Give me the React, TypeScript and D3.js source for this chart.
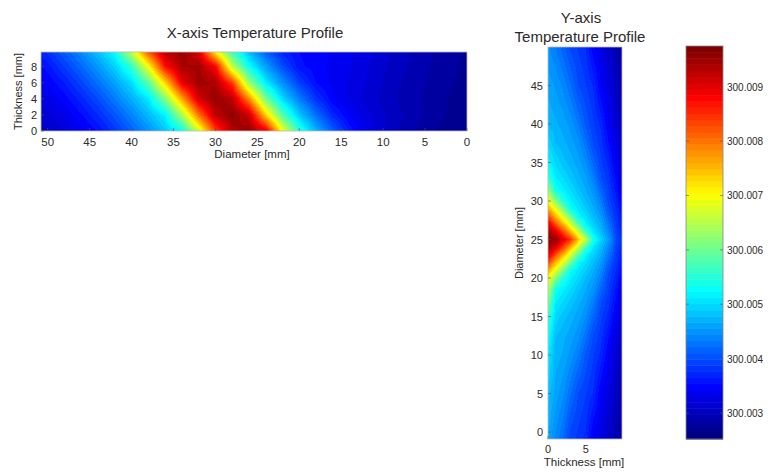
import React, { useMemo } from "react";
import * as d3 from "d3";

// ---------- DATA (temperatures as 1e-3 K above 300 K) ----------
// X-axis profile: rows = thickness [mm], columns = diameter [mm]
const X_DIAMETER = [0, 2, 4, 6, 8, 10, 12, 14, 16, 18, 20, 22, 24, 26, 28, 30, 32, 34, 36, 38, 40, 42, 44, 46, 48, 50, 52];
const X_THICKNESS = [0, 2, 4, 6, 8, 10];
const X_T0 = [2.63, 2.68, 2.75, 2.85, 2.95, 3.10, 3.32, 3.61, 4.11, 4.72, 5.55, 6.97, 9.03, 9.52, 9.34, 8.37, 6.69, 5.30, 4.85, 4.46, 4.13, 3.82, 3.55, 3.37, 3.21, 3.06, 2.99];
const X_T2 = [2.66, 2.72, 2.81, 2.90, 2.99, 3.11, 3.24, 3.42, 3.71, 4.23, 4.86, 5.80, 7.34, 9.20, 9.59, 9.27, 8.01, 6.41, 5.17, 4.77, 4.39, 4.05, 3.76, 3.52, 3.32, 3.18, 3.03];
const X_T4 = [2.69, 2.74, 2.81, 2.88, 2.95, 3.05, 3.16, 3.28, 3.45, 3.80, 4.34, 4.99, 6.06, 7.85, 9.30, 9.55, 9.11, 7.65, 6.14, 5.09, 4.69, 4.33, 3.99, 3.71, 3.48, 3.29, 3.15];
const X_T6 = [2.71, 2.76, 2.82, 2.90, 2.98, 3.08, 3.19, 3.30, 3.39, 3.53, 3.89, 4.46, 5.13, 6.31, 8.40, 9.37, 9.48, 8.94, 7.31, 5.86, 5.01, 4.60, 4.26, 3.94, 3.65, 3.44, 3.26];
const X_T8 = [2.72, 2.77, 2.85, 2.92, 3.01, 3.11, 3.22, 3.32, 3.40, 3.47, 3.57, 3.99, 4.58, 5.30, 6.59, 8.85, 9.45, 9.41, 8.72, 6.97, 5.58, 4.93, 4.53, 4.19, 3.88, 3.60, 3.40];
const X_T10 = [2.74, 2.79, 2.86, 2.94, 3.03, 3.13, 3.24, 3.33, 3.41, 3.47, 3.53, 3.68, 4.11, 4.72, 5.55, 6.97, 9.03, 9.52, 9.34, 8.37, 6.69, 5.30, 4.85, 4.46, 4.13, 3.82, 3.55];

// Y-axis profile: rows = diameter [mm], columns = thickness [mm]
const Y_THICKNESS = [0, 1, 2, 3, 4, 5, 6, 7, 8, 9, 10];
const Y_DIAMETER = [-1, 0, 5, 10, 12.5, 15, 17, 18.5, 20, 21, 22, 23, 24, 25, 26, 27, 28, 29, 30, 31.5, 33, 35, 37.5, 40, 45, 50];
const Y_ROWS = [
  [4.65, 4.40, 4.20, 3.94, 3.84, 3.71, 3.39, 3.27, 3.08, 2.93, 2.78],
  [4.69, 4.45, 4.25, 3.95, 3.86, 3.76, 3.45, 3.30, 3.10, 2.95, 2.79],
  [4.83, 4.62, 4.47, 4.23, 3.99, 3.88, 3.75, 3.42, 3.26, 3.04, 2.87],
  [5.12, 4.73, 4.65, 4.51, 4.33, 4.07, 3.89, 3.73, 3.42, 3.17, 2.97],
  [5.34, 4.79, 4.70, 4.61, 4.49, 4.26, 3.97, 3.82, 3.56, 3.29, 3.02],
  [5.63, 4.98, 4.83, 4.72, 4.61, 4.45, 4.18, 3.91, 3.72, 3.40, 3.06],
  [6.14, 5.13, 5.01, 4.86, 4.71, 4.58, 4.36, 4.01, 3.81, 3.52, 3.12],
  [6.57, 5.34, 5.14, 5.00, 4.82, 4.67, 4.49, 4.17, 3.88, 3.60, 3.24],
  [7.00, 6.19, 5.47, 5.14, 4.99, 4.77, 4.61, 4.33, 3.94, 3.70, 3.36],
  [7.65, 6.87, 6.11, 5.28, 5.09, 4.90, 4.69, 4.44, 4.02, 3.76, 3.44],
  [8.38, 7.54, 6.81, 6.00, 5.20, 5.03, 4.78, 4.55, 4.15, 3.82, 3.50],
  [9.03, 8.27, 7.54, 6.74, 5.87, 5.16, 4.93, 4.67, 4.28, 3.88, 3.56],
  [9.46, 9.03, 8.35, 7.55, 6.66, 5.69, 5.09, 4.79, 4.40, 3.94, 3.62],
  [9.61, 9.53, 9.03, 8.45, 7.51, 6.57, 5.41, 4.95, 4.57, 4.00, 3.68],
  [9.46, 9.03, 8.35, 7.55, 6.66, 5.69, 5.09, 4.79, 4.40, 3.94, 3.62],
  [9.03, 8.27, 7.54, 6.74, 5.87, 5.16, 4.93, 4.67, 4.28, 3.88, 3.56],
  [8.38, 7.54, 6.81, 6.00, 5.20, 5.03, 4.78, 4.55, 4.15, 3.82, 3.50],
  [7.65, 6.87, 6.11, 5.28, 5.09, 4.90, 4.69, 4.44, 4.02, 3.76, 3.44],
  [7.00, 6.19, 5.47, 5.14, 4.99, 4.77, 4.61, 4.33, 3.94, 3.70, 3.36],
  [6.28, 5.34, 5.14, 5.00, 4.82, 4.67, 4.49, 4.17, 3.88, 3.60, 3.24],
  [5.56, 5.13, 5.01, 4.86, 4.71, 4.58, 4.36, 4.01, 3.81, 3.52, 3.12],
  [5.20, 4.98, 4.83, 4.72, 4.61, 4.45, 4.18, 3.91, 3.72, 3.40, 3.06],
  [4.98, 4.79, 4.70, 4.61, 4.49, 4.26, 3.97, 3.82, 3.56, 3.29, 3.02],
  [4.76, 4.69, 4.62, 4.51, 4.33, 4.07, 3.89, 3.73, 3.42, 3.17, 2.97],
  [4.62, 4.54, 4.41, 4.23, 3.99, 3.88, 3.75, 3.42, 3.26, 3.04, 2.87],
  [4.47, 4.32, 4.15, 3.95, 3.86, 3.76, 3.45, 3.30, 3.10, 2.95, 2.79],
];

const COLOR_DOMAIN = [2.52, 9.75];
const CBAR_TICKS = [3, 4, 5, 6, 7, 8, 9];
const CBAR_LABELS = ["300.003", "300.004", "300.005", "300.006", "300.007", "300.008", "300.009"];
const X_DIAM_TICKS = [50, 45, 40, 35, 30, 25, 20, 15, 10, 5, 0];
const X_THICK_TICKS = [0, 2, 4, 6, 8];
const Y_DIAM_TICKS = [0, 5, 10, 15, 20, 25, 30, 35, 40, 45];
const Y_THICK_TICKS = [0, 5];

// ---------- helpers ----------
const NLEV = 64;
function jet(v: number): [number, number, number] {
  const c = (x: number) => Math.max(0, Math.min(1, x));
  const r = c(Math.min(4 * v - 1.5, -4 * v + 4.5));
  const g = c(Math.min(4 * v - 0.5, -4 * v + 3.5));
  const b = c(Math.min(4 * v + 0.5, -4 * v + 2.5));
  return [Math.round(r * 255), Math.round(g * 255), Math.round(b * 255)];
}
const colorNorm = d3.scaleLinear().domain(COLOR_DOMAIN).range([0, 1]).clamp(true);
function levelColor(t: number): [number, number, number] {
  const idx = Math.max(0, Math.min(NLEV - 1, Math.floor(colorNorm(t) * NLEV)));
  return jet(idx / (NLEV - 1));
}

function sampleGrid(xs: number[], ys: number[], grid: number[][], x: number, y: number) {
  const i = Math.max(0, Math.min(xs.length - 2, d3.bisectRight(xs, x) - 1));
  const j = Math.max(0, Math.min(ys.length - 2, d3.bisectRight(ys, y) - 1));
  const fx = Math.max(0, Math.min(1, (x - xs[i]) / (xs[i + 1] - xs[i])));
  const fy = Math.max(0, Math.min(1, (y - ys[j]) / (ys[j + 1] - ys[j])));
  const a = grid[j][i], b = grid[j][i + 1], c = grid[j + 1][i], d = grid[j + 1][i + 1];
  return (a * (1 - fx) + b * fx) * (1 - fy) + (c * (1 - fx) + d * fx) * fy;
}

function fieldImage(
  xs: number[], ys: number[], grid: number[][],
  xScale: d3.ScaleLinear<number, number>, yScale: d3.ScaleLinear<number, number>,
  x0: number, y0: number, w: number, h: number
): string {
  if (typeof document === "undefined") return "";
  const canvas = document.createElement("canvas");
  canvas.width = w;
  canvas.height = h;
  const ctx = canvas.getContext("2d");
  if (!ctx) return "";
  const img = ctx.createImageData(w, h);
  for (let py = 0; py < h; py++) {
    const dy = yScale.invert(y0 + py + 0.5);
    for (let px = 0; px < w; px++) {
      const dx = xScale.invert(x0 + px + 0.5);
      const [r, g, b] = levelColor(sampleGrid(xs, ys, grid, dx, dy));
      const k = (py * w + px) * 4;
      img.data[k] = r; img.data[k + 1] = g; img.data[k + 2] = b; img.data[k + 3] = 255;
    }
  }
  ctx.putImageData(img, 0, 0);
  return canvas.toDataURL();
}

const FONT = "'Liberation Sans', Arial, Helvetica, sans-serif";
const TXT = "#2a2a2a";

export default function App() {
  // plot 1 geometry
  const p1 = { x0: 41, x1: 467, y0: 52, y1: 131 };
  const x1Scale = d3.scaleLinear().domain([50.8, 0]).range([p1.x0, p1.x1]);
  const y1Scale = d3.scaleLinear().domain([0, 9.8]).range([p1.y1, p1.y0]);
  // plot 2 geometry
  const p2 = { x0: 548, x1: 622, y0: 47, y1: 439 };
  const x2Scale = d3.scaleLinear().domain([0, 9.8]).range([p2.x0, p2.x1]);
  const y2Scale = d3.scaleLinear().domain([-0.9, 50]).range([p2.y1, p2.y0]);
  // colorbar
  const cb = { x0: 686, x1: 723, y0: 46, y1: 439 };
  const cScale = d3.scaleLinear().domain(COLOR_DOMAIN).range([cb.y1, cb.y0]);

  const xGrid = [X_T0, X_T2, X_T4, X_T6, X_T8, X_T10];

  const img1 = useMemo(
    () => fieldImage(X_DIAMETER, X_THICKNESS, xGrid, x1Scale, y1Scale, p1.x0, p1.y0, p1.x1 - p1.x0, p1.y1 - p1.y0),
    []
  );
  const img2 = useMemo(
    () => fieldImage(Y_THICKNESS, Y_DIAMETER, Y_ROWS, x2Scale, y2Scale, p2.x0, p2.y0, p2.x1 - p2.x0, p2.y1 - p2.y0),
    []
  );

  const levels = d3.range(NLEV).map((i) => {
    const lo = COLOR_DOMAIN[0] + ((COLOR_DOMAIN[1] - COLOR_DOMAIN[0]) * i) / NLEV;
    const hi = COLOR_DOMAIN[0] + ((COLOR_DOMAIN[1] - COLOR_DOMAIN[0]) * (i + 1)) / NLEV;
    const [r, g, b] = jet(i / (NLEV - 1));
    return { lo, hi, fill: `rgb(${r},${g},${b})` };
  });

  const tick = 3;
  const border = "#b8b8b8";

  return (
    <svg width={768} height={472} style={{ position: "absolute", left: 0, top: 0, background: "#fff" }} fontFamily={FONT}>
      <rect x={0} y={0} width={768} height={472} fill="#fff" />

      {/* ---------- Plot 1 ---------- */}
      <text x={255} y={38} textAnchor="middle" fontSize={15} fill={TXT}>X-axis Temperature Profile</text>
      <image href={img1} x={p1.x0} y={p1.y0} width={p1.x1 - p1.x0} height={p1.y1 - p1.y0} preserveAspectRatio="none" />
      <rect x={p1.x0} y={p1.y0} width={p1.x1 - p1.x0} height={p1.y1 - p1.y0} fill="none" stroke={border} strokeWidth={0.8} />
      {X_DIAM_TICKS.map((t) => (
        <g key={"x1" + t}>
          <line x1={x1Scale(t)} x2={x1Scale(t)} y1={p1.y1} y2={p1.y1 - tick} stroke="#555" strokeWidth={0.6} />
          <text x={x1Scale(t)} y={146} textAnchor="middle" fontSize={11.5} fill={TXT}>{t}</text>
        </g>
      ))}
      {X_THICK_TICKS.map((t) => (
        <g key={"y1" + t}>
          <line x1={p1.x0} x2={p1.x0 + tick} y1={y1Scale(t)} y2={y1Scale(t)} stroke="#555" strokeWidth={0.6} />
          <text x={37} y={y1Scale(t) + 4} textAnchor="end" fontSize={11} fill={TXT}>{t}</text>
        </g>
      ))}
      <text x={252} y={158} textAnchor="middle" fontSize={11.5} fill={TXT}>Diameter [mm]</text>
      <text transform={`translate(22,${(p1.y0 + p1.y1) / 2}) rotate(-90)`} textAnchor="middle" fontSize={11} fill={TXT}>Thickness [mm]</text>

      {/* ---------- Plot 2 ---------- */}
      <text x={581} y={23} textAnchor="middle" fontSize={15} fill={TXT}>Y-axis</text>
      <text x={580} y={42} textAnchor="middle" fontSize={15} fill={TXT}>Temperature Profile</text>
      <image href={img2} x={p2.x0} y={p2.y0} width={p2.x1 - p2.x0} height={p2.y1 - p2.y0} preserveAspectRatio="none" />
      <rect x={p2.x0} y={p2.y0} width={p2.x1 - p2.x0} height={p2.y1 - p2.y0} fill="none" stroke={border} strokeWidth={0.8} />
      {Y_DIAM_TICKS.map((t) => (
        <g key={"y2" + t}>
          <line x1={p2.x0} x2={p2.x0 + tick} y1={y2Scale(t)} y2={y2Scale(t)} stroke="#555" strokeWidth={0.6} />
          <text x={543} y={y2Scale(t) + 4} textAnchor="end" fontSize={11} fill={TXT}>{t}</text>
        </g>
      ))}
      {Y_THICK_TICKS.map((t) => (
        <g key={"x2" + t}>
          <line x1={x2Scale(t)} x2={x2Scale(t)} y1={p2.y1} y2={p2.y1 - tick} stroke="#555" strokeWidth={0.6} />
          <text x={x2Scale(t)} y={453} textAnchor="middle" fontSize={11} fill={TXT}>{t}</text>
        </g>
      ))}
      <text x={584} y={466} textAnchor="middle" fontSize={11.5} fill={TXT}>Thickness [mm]</text>
      <text transform={`translate(523,${(p2.y0 + p2.y1) / 2}) rotate(-90)`} textAnchor="middle" fontSize={11} fill={TXT}>Diameter [mm]</text>

      {/* ---------- Colorbar ---------- */}
      {levels.map((l, i) => (
        <rect key={"cb" + i} x={cb.x0} width={cb.x1 - cb.x0} y={cScale(l.hi)} height={cScale(l.lo) - cScale(l.hi) + 0.5} fill={l.fill} />
      ))}
      <rect x={cb.x0} y={cb.y0} width={cb.x1 - cb.x0} height={cb.y1 - cb.y0} fill="none" stroke="#888" strokeWidth={0.8} />
      {CBAR_TICKS.map((t, i) => (
        <g key={"ct" + t}>
          <line x1={cb.x0} x2={cb.x0 + tick} y1={cScale(t)} y2={cScale(t)} stroke="#555" strokeWidth={0.6} />
          <line x1={cb.x1} x2={cb.x1 - tick} y1={cScale(t)} y2={cScale(t)} stroke="#555" strokeWidth={0.6} />
          <text x={727} y={cScale(t) + 4} fontSize={10} fill={TXT}>{CBAR_LABELS[i]}</text>
        </g>
      ))}
    </svg>
  );
}
